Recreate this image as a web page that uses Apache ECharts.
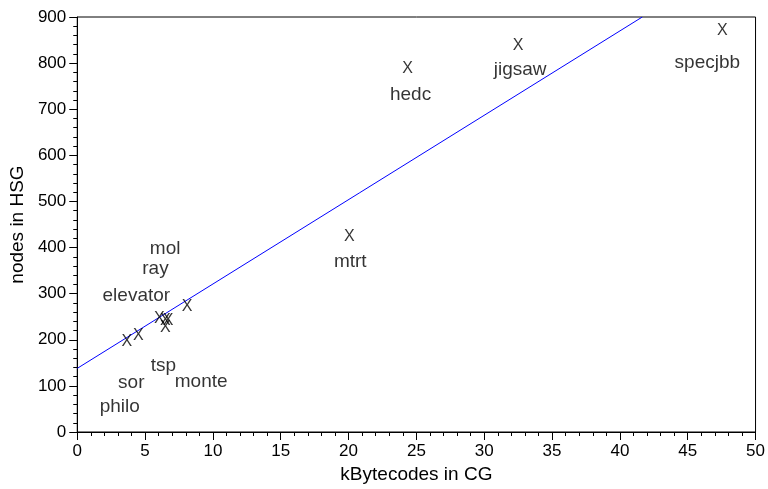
<!DOCTYPE html>
<html>
<head>
    <meta charset="UTF-8">
    <title>HSG nodes vs CG size</title>
</head>
<body style="margin:0">
<div id="main" style="width:768px; height:489px;"></div>

<script type="text/javascript" src="https://cdn.jsdelivr.net/npm/echarts@6/dist/echarts.min.js"></script>
<script type="text/javascript">
    // benchmark names and their measured values
    var names = ["philo", "sor", "elevator", "ray", "mol", "tsp", "monte", "mtrt", "hedc", "jigsaw", "specjbb"];
    var kBytecodes = [3.65, 4.5, 6.05, 6.5, 6.7, 6.5, 8.1, 20.05, 24.35, 32.5, 47.55];
    var hsgNodes = [196, 210, 246, 242, 242, 226, 271, 424, 789, 839, 871];

    // fitted line, end points
    var fitX = [0, 41.65];
    var fitY = [138, 900];

    // where each name sits relative to its mark (pixels)
    var labelOffsets = [[-7, 65], [-7, 48], [-23, -23], [-10, -52], [-3, -72], [-2, 38], [14, 75], [1, 25], [3, 27], [2, 25], [-15, 32]];

    var font = 'Liberation Sans';
    var marks = [], tags = [], fit = [];
    for (var i = 0; i < names.length; i++) {
        marks.push([kBytecodes[i], hsgNodes[i]]);
        tags.push({
            value: [kBytecodes[i], hsgNodes[i]],
            label: {offset: labelOffsets[i]}
        });
    }
    for (var j = 0; j < fitX.length; j++) fit.push([fitX[j], fitY[j]]);

    var myChart = echarts.init(document.getElementById('main'));

    var axisCommon = {
        axisLine: {show: true, lineStyle: {color: '#000', width: 1}},
        axisTick: {show: true, length: 8, lineStyle: {color: '#000'}},
        minorTick: {show: true, splitNumber: 5, length: 4, lineStyle: {color: '#000'}},
        splitLine: {show: false},
        axisLabel: {color: '#000', fontFamily: font, fontSize: 17, margin: 11},
        nameLocation: 'middle',
        nameTextStyle: {color: '#000', fontFamily: font, fontSize: 19}
    };

    var option = {
        animation: false,
        backgroundColor: '#fff',
        grid: {left: 77, right: 12, top: 17, bottom: 55, show: true, borderColor: '#000', borderWidth: 1},
        xAxis: Object.assign({}, axisCommon, {
            type: 'value', min: 0, max: 50, interval: 5,
            name: 'kBytecodes in CG', nameGap: 33
        }),
        yAxis: Object.assign({}, axisCommon, {
            type: 'value', min: 0, max: 900, interval: 100,
            name: 'nodes in HSG', nameGap: 50
        }),
        series: [
            {
                type: 'line',
                data: fit,
                symbol: 'none',
                lineStyle: {color: '#0000ff', width: 1},
                silent: true,
                z: 1
            },
            {
                // the "X" marks
                type: 'scatter',
                data: marks,
                symbolSize: 1,
                itemStyle: {color: 'rgba(0,0,0,0)'},
                label: {
                    show: true, position: 'inside', formatter: 'X',
                    color: '#000', fontFamily: font, fontSize: 16
                },
                z: 3
            },
            {
                // benchmark names
                type: 'scatter',
                data: tags,
                symbolSize: 1,
                itemStyle: {color: 'rgba(0,0,0,0)'},
                label: {
                    show: true, position: 'inside',
                    formatter: function (p) { return names[p.dataIndex]; },
                    color: '#000', fontFamily: font, fontSize: 19
                },
                z: 3
            }
        ]
    };

    myChart.setOption(option);
</script>
</body>
</html>
